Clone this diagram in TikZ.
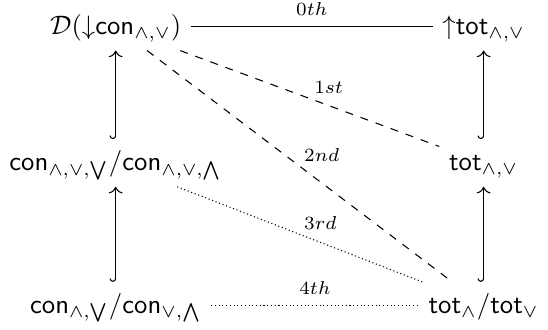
\documentclass[tikz,border=0pt]{standalone}
\usepackage{amsmath,amssymb}
\usepackage{tikz}
\usetikzlibrary{arrows.meta,positioning}
\newcommand{\con}{\mathsf{con}}
\newcommand{\tot}{\mathsf{tot}}

\begin{document}
\begin{tikzpicture}[
    cell/.style={inner sep=3.5pt,text height=8pt,text depth=2.5pt},
    lbl/.style={font=\scriptsize,inner sep=1.5pt},
    embed/.style={{Hooks[right]}-{To}},
    on grid
  ]
    \node[cell] (dcon) {$\mathcal{D}({\downarrow}\con_{\wedge,\vee})$};
    \node[cell,right=137.8pt of dcon] (uptot) {${\uparrow}\tot_{\wedge,\vee}$};
    \node[cell,below=51pt of dcon] (conmid) {$\con_{\wedge,\vee,\bigvee}/\con_{\wedge,\vee,\bigwedge}$};
    \node[cell,below=51pt of uptot] (totmid) {$\tot_{\wedge,\vee}$};
    \node[cell,below=53.5pt of conmid] (conlow) {$\con_{\wedge,\bigvee}/\con_{\vee,\bigwedge}$};
    \node[cell,below=53.5pt of totmid] (totlow) {$\tot_{\wedge}/\tot_{\vee}$};
    \useasboundingbox (dcon.center) ++(-41.8pt,10pt) rectangle ++(199.3pt,-122.2pt);
    % inclusions
    \draw[embed] (conmid) -- (dcon);
    \draw[embed] (conlow) -- (conmid);
    \draw[embed] (totmid) -- (uptot);
    \draw[embed] (totlow) -- (totmid);
    % the steps
    \draw (dcon) -- node[lbl,above=2.5pt] {$0th$} (uptot);
    \draw[dashed] (dcon) -- node[lbl,above right] {$1st$} (totmid);
    \draw[dashed] (dcon) -- node[lbl,above right] {$2nd$} (totlow);
    \draw[densely dotted] (conmid) -- node[lbl,above right] {$3rd$} (totlow);
    \draw[densely dotted] (conlow) -- node[lbl,above=2.5pt] {$4th$} (totlow);
  \end{tikzpicture}
\end{document}
